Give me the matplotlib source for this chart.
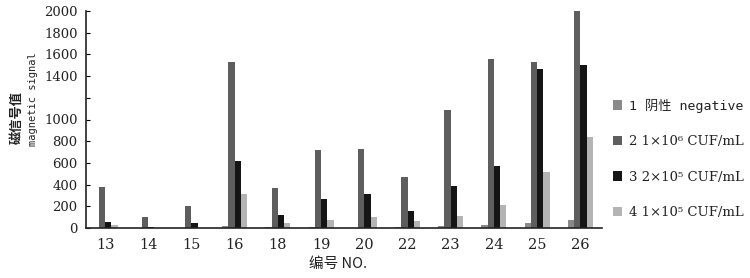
import matplotlib
matplotlib.use("Agg")
import matplotlib.pyplot as plt
import numpy as np

categories = ["13", "14", "15", "16", "18", "19", "20", "22", "23", "24", "25", "26"]
negative = [4, 2, 2, 18, 10, 12, 3, 12, 18, 28, 43, 77]
c1e6 = [375, 104, 206, 1528, 366, 722, 731, 467, 1088, 1555, 1533, 2000]
c2e5 = [58, 12, 49, 618, 123, 270, 311, 160, 384, 574, 1463, 1500]
c1e5 = [28, 3, 2, 311, 46, 77, 104, 67, 111, 215, 516, 842]
series_labels = ["1 阴性 negative", "2 1×10⁶ CUF/mL", "3 2×10⁵ CUF/mL", "4 1×10⁵ CUF/mL"]
y_ticks = [0, 200, 400, 600, 800, 1000, 1200, 1400, 1600, 1800, 2000]
y_ticklabels = ["0", "200", "400", "600", "800", "1000", "", "1400", "1600", "1800", "2000"]

colors = ["#8a8a8a", "#5e5e5e", "#151515", "#b4b4b4"]
series = [negative, c1e6, c2e5, c1e5]

fig = plt.figure(figsize=(7.5, 2.78), dpi=100)
ax = fig.add_axes([86/750, 1-228/278, (602-86)/750, (228-11)/278])

x = np.arange(len(categories))
w = 0.145
offsets = [-1.5, -0.5, 0.5, 1.5]
handles = []
for vals, off, col, lab in zip(series, offsets, colors, series_labels):
    h = ax.bar(x + off*w, vals, width=w, color=col, label=lab, linewidth=0)
    handles.append(h)

ax.set_xlim(-0.44, 11.5)
ax.set_ylim(0, 2000)
ax.set_yticks(y_ticks)
ax.set_yticklabels(y_ticklabels)
ax.set_xticks(x)
ax.set_xticklabels(categories)
for s in ["top", "right"]:
    ax.spines[s].set_visible(False)
for s in ["left", "bottom"]:
    ax.spines[s].set_linewidth(1.2)
    ax.spines[s].set_color("#222222")
ax.tick_params(axis="y", direction="in", length=3, width=0.8, pad=6)
ax.tick_params(axis="x", length=0, pad=7)
for t in ax.get_yticklabels():
    t.set_fontfamily("DejaVu Serif")
    t.set_fontsize(9.5)
    t.set_color("#222222")
for t in ax.get_xticklabels():
    t.set_fontfamily("DejaVu Serif")
    t.set_fontsize(10.5)
    t.set_color("#222222")

fig.text(17/750, 1-118/278, "磁信号值", rotation=90, ha="center", va="center",
         fontsize=9.5, family=["Noto Sans CJK SC"], fontweight="bold", color="#222222")
fig.text(33/750, 1-99/278, "magnetic signal", rotation=90, ha="center", va="center",
         fontsize=7.5, family=["DejaVu Sans Mono"], color="#222222")
fig.text(338/750, 1-264/278, "编号 NO.", ha="center", va="center",
         fontsize=10.5, family=["Noto Sans CJK SC", "DejaVu Serif"], color="#222222")

leg = fig.legend(handles=handles, labels=series_labels, loc="upper left",
                 bbox_to_anchor=(606/750, 1-92/278), frameon=False,
                 fontsize=9.5, handlelength=0.75, handleheight=0.75, handletextpad=0.5,
                 labelspacing=1.7, borderpad=0)
for i, t in enumerate(leg.get_texts()):
    if i == 0:
        t.set_fontfamily(["DejaVu Sans Mono", "Noto Sans CJK SC"])
    else:
        t.set_fontfamily(["DejaVu Serif", "Noto Sans CJK SC"])
    t.set_color("#222222")

fig.savefig("out.png", dpi=100)
